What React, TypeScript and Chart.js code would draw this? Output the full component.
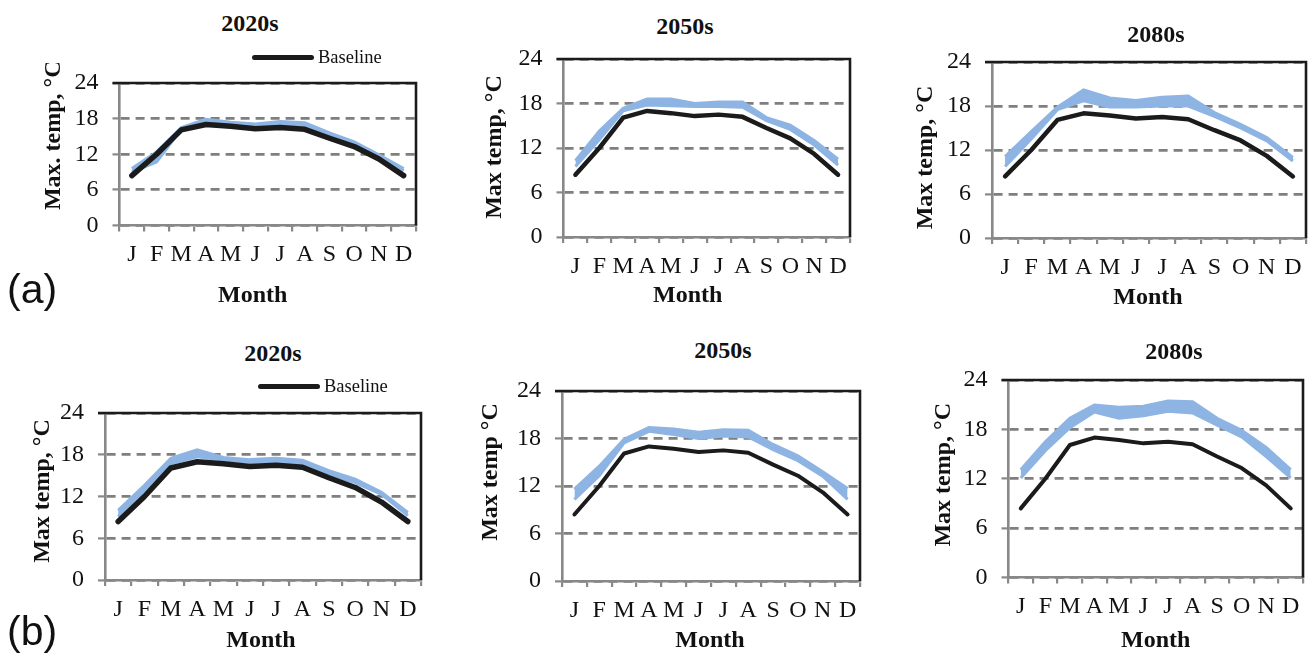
import React, { useEffect, useRef } from "react";
import { Chart, registerables } from "chart.js";

Chart.register(...registerables);

// ---------- data ----------
const MONTHS = ["J", "F", "M", "A", "M", "J", "J", "A", "S", "O", "N", "D"];
const Y_TICKS = [0, 6, 12, 18, 24];
const BASELINE = [8.4, 12.0, 16.1, 17.0, 16.7, 16.3, 16.5, 16.2, 14.7, 13.3, 11.2, 8.4];

const A2020_LOW = [9.0, 10.7, 16.2, 17.4, 17.1, 16.7, 16.8, 16.7, 15.1, 13.8, 11.5, 9.2];
const A2020_HIGH = [9.6, 12.4, 16.5, 17.9, 17.4, 17.1, 17.5, 17.3, 15.6, 14.1, 11.9, 9.6];
const A2050_LOW = [9.5, 13.1, 17.0, 17.8, 17.7, 17.6, 17.6, 17.5, 15.7, 14.5, 12.4, 9.7];
const A2050_HIGH = [10.3, 14.3, 17.35, 18.6, 18.6, 18.0, 18.2, 18.2, 16.1, 15.1, 13.0, 10.5];
const A2080_LOW = [9.75, 13.5, 17.5, 18.7, 17.85, 17.85, 18.0, 18.0, 16.6, 15.0, 13.25, 10.5];
const A2080_HIGH = [11.1, 14.5, 17.85, 20.2, 19.1, 18.75, 19.2, 19.35, 17.1, 15.5, 13.7, 11.0];
const B2020_LOW = [9.1, 12.8, 16.7, 17.7, 17.25, 16.9, 17.0, 16.7, 15.2, 14.0, 12.3, 9.25];
const B2020_HIGH = [10.0, 13.6, 17.5, 18.7, 17.6, 17.3, 17.5, 17.2, 15.7, 14.5, 12.6, 9.7];
const B2050_LOW = [10.3, 13.3, 17.45, 18.9, 18.5, 18.0, 18.3, 18.2, 16.6, 15.2, 13.25, 10.3];
const B2050_HIGH = [11.6, 14.5, 17.9, 19.4, 19.2, 18.8, 19.1, 19.05, 17.25, 15.8, 13.8, 11.7];
const B2080_LOW = [12.1, 15.4, 18.2, 20.1, 19.35, 19.65, 20.2, 20.0, 18.5, 17.1, 14.7, 12.1];
const B2080_HIGH = [13.1, 16.5, 19.35, 20.95, 20.7, 20.8, 21.45, 21.35, 19.35, 17.9, 15.8, 13.1];

const TITLES = ["2020s", "2050s", "2080s", "2020s", "2050s", "2080s"];
const Y_TITLES = ["Max. temp, °C", "Max temp, °C", "Max temp, °C", "Max temp, °C", "Max temp °C", "Max temp, °C"];
const X_TITLE = "Month";
const LEGEND_LABEL = "Baseline";

// ---------- styles / layout ----------
const SERIF = '"Liberation Serif", "Times New Roman", Times, serif';
const SANS = '"Liberation Sans", Arial, Helvetica, sans-serif';
const GRAY = "#7f7f7f";
const AXIS_GRAY = "#888888";
const BLACK = "#1b1b1b";
const BLUE = "#8db4e3";
const TOP_PAD = 20;

const PANELS = [
  { low: A2020_LOW, high: A2020_HIGH, x: 39, y: 63, w: 380, h: 247, yw: 80.5, xh: 84.5, bw: 5.5, tx: 250, ty: 23, ydy: -19, xdx: -15, legend: { x: 252, y: 57 } },
  { low: A2050_LOW, high: A2050_HIGH, x: 480, y: 39, w: 373, h: 271, yw: 83.5, xh: 73, bw: 4.5, tx: 685, ty: 25.5, ydy: -1, xdx: -19 },
  { low: A2080_LOW, high: A2080_HIGH, x: 911, y: 42, w: 398, h: 270, yw: 81, xh: 74, bw: 4.5, tx: 1156, ty: 34, ydy: 7.5, xdx: -1 },
  { low: B2020_LOW, high: B2020_HIGH, x: 28, y: 393, w: 396, h: 262, yw: 77, xh: 75, bw: 5.5, tx: 273, ty: 352.5, ydy: -5.5, xdx: -2, legend: { x: 258, y: 386 } },
  { low: B2050_LOW, high: B2050_HIGH, x: 476, y: 371, w: 387, h: 284, yw: 86, xh: 74, bw: 4, tx: 723, ty: 349.5, ydy: -14, xdx: -1 },
  { low: B2080_LOW, high: B2080_HIGH, x: 929, y: 360, w: 377, h: 295, yw: 79.5, xh: 77.5, bw: 4, tx: 1174, ty: 350.5, ydy: -4, xdx: 0 },
];

// black top/right frame of the plot area (Excel style)
const framePlugin = {
  id: "frame",
  beforeDatasetsDraw(chart: any) {
    const { ctx, chartArea } = chart;
    const { left, top, right, bottom } = chartArea;
    ctx.save();
    ctx.strokeStyle = BLACK;
    ctx.lineWidth = 2.6;
    ctx.beginPath();
    ctx.moveTo(left - 7, top);
    ctx.lineTo(right, top);
    ctx.lineTo(right, bottom);
    ctx.stroke();
    ctx.restore();
  },
};

// axis titles, placed like the source figure
const axisTitlesPlugin = {
  id: "axisTitles",
  afterDraw(chart: any, _args: any, opts: any) {
    const { ctx, chartArea, height } = chart;
    ctx.save();
    ctx.fillStyle = "#111";
    ctx.font = `bold 24px ${SERIF}`;
    ctx.textAlign = "center";
    ctx.textBaseline = "middle";
    ctx.save();
    ctx.translate(14.4, (chartArea.top + chartArea.bottom) / 2 + (opts.ydy || 0));
    ctx.rotate(-Math.PI / 2);
    ctx.fillText(opts.yText, 0, 0);
    ctx.restore();
    ctx.fillText(opts.xText, (chartArea.left + chartArea.right) / 2 + (opts.xdx || 0), height - 14.4);
    ctx.restore();
  },
};

function Panel({ idx }: { idx: number }) {
  const cfg = PANELS[idx];
  const ref = useRef<HTMLCanvasElement | null>(null);
  useEffect(() => {
    if (!ref.current) return;
    const chart = new Chart(ref.current, {
      type: "line",
      data: {
        labels: MONTHS,
        datasets: [
          {
            label: LEGEND_LABEL,
            data: BASELINE,
            borderColor: BLACK,
            borderWidth: cfg.bw,
            pointRadius: 0,
            tension: 0,
            fill: false,
            borderCapStyle: "round",
            borderJoinStyle: "round",
          },
          {
            label: "Scenarios (lower)",
            data: cfg.low,
            borderColor: BLUE,
            borderWidth: 3,
            pointRadius: 0,
            tension: 0,
            fill: false,
          },
          {
            label: "Scenarios (upper)",
            data: cfg.high,
            borderColor: BLUE,
            backgroundColor: BLUE,
            borderWidth: 3,
            pointRadius: 0,
            tension: 0,
            fill: "-1",
          },
        ],
      },
      options: {
        responsive: false,
        animation: false,
        devicePixelRatio: 1,
        events: [],
        layout: { padding: { left: 0, top: TOP_PAD, right: 3, bottom: 0 } },
        plugins: {
          legend: { display: false },
          title: { display: false },
          tooltip: { enabled: false },
          axisTitles: { yText: Y_TITLES[idx], xText: X_TITLE, ydy: cfg.ydy, xdx: cfg.xdx },
        },
        scales: {
          x: {
            type: "category",
            offset: true,
            grid: {
              offset: true,
              drawOnChartArea: false,
              drawTicks: true,
              tickLength: 6,
              color: AXIS_GRAY,
              lineWidth: 2.2,
              tickBorderDash: [],
            },
            border: { display: true, color: AXIS_GRAY, width: 2.6 },
            ticks: {
              font: { family: SERIF, size: 24 },
              color: "#111",
              padding: 9,
              maxRotation: 0,
              autoSkip: false,
            },
            afterFit: (s: any) => {
              s.height = cfg.xh;
              s.paddingLeft = 0;
              s.paddingRight = 0;
            },
          },
          y: {
            min: Y_TICKS[0],
            max: Y_TICKS[Y_TICKS.length - 1],
            afterBuildTicks: (s: any) => {
              s.ticks = Y_TICKS.map((v) => ({ value: v }));
            },
            grid: {
              color: GRAY,
              lineWidth: 2.8,
              tickLength: 7,
              tickColor: AXIS_GRAY,
              tickWidth: 2.2,
              tickBorderDash: [],
              drawTicks: true,
            },
            border: { display: true, color: AXIS_GRAY, width: 2.6, dash: [9, 6] },
            ticks: {
              font: { family: SERIF, size: 24 },
              color: "#111",
              padding: 14,
            },
            afterFit: (s: any) => {
              s.width = cfg.yw;
              s.paddingTop = 0;
              s.paddingBottom = 0;
            },
          },
        },
      },
      plugins: [framePlugin, axisTitlesPlugin],
    } as any);
    return () => chart.destroy();
  }, [idx]);
  return (
    <canvas
      ref={ref}
      width={cfg.w}
      height={cfg.h}
      style={{ position: "absolute", left: cfg.x, top: cfg.y, width: cfg.w, height: cfg.h }}
    />
  );
}

function PanelText({ idx }: { idx: number }) {
  const cfg = PANELS[idx];
  return (
    <>
      <div
        style={{
          position: "absolute",
          left: cfg.tx - 100,
          top: cfg.ty - 12,
          width: 200,
          textAlign: "center",
          font: `bold 24px/24px ${SERIF}`,
          color: "#111",
        }}
      >
        {TITLES[idx]}
      </div>
      {cfg.legend && (
        <>
          <div
            style={{
              position: "absolute",
              left: cfg.legend.x,
              top: cfg.legend.y - 2.5,
              width: 62,
              height: 5,
              borderRadius: 2.5,
              background: BLACK,
            }}
          />
          <div
            style={{
              position: "absolute",
              left: cfg.legend.x + 66,
              top: cfg.legend.y - 10,
              font: `18.5px/20px ${SERIF}`,
              color: "#111",
              whiteSpace: "nowrap",
            }}
          >
            {LEGEND_LABEL}
          </div>
        </>
      )}
    </>
  );
}

export default function App() {
  return (
    <div
      style={{
        position: "fixed",
        left: 0,
        top: 0,
        width: 1312,
        height: 655,
        overflow: "hidden",
        background: "#fff",
      }}
    >
      {PANELS.map((_, i) => (
        <Panel key={"p" + i} idx={i} />
      ))}
      {PANELS.map((_, i) => (
        <PanelText key={"t" + i} idx={i} />
      ))}
      <div style={{ position: "absolute", left: 7, top: 268.5, font: `41px/41px ${SANS}`, color: "#111" }}>(a)</div>
      <div style={{ position: "absolute", left: 7, top: 610.5, font: `41px/41px ${SANS}`, color: "#111" }}>(b)</div>
    </div>
  );
}
